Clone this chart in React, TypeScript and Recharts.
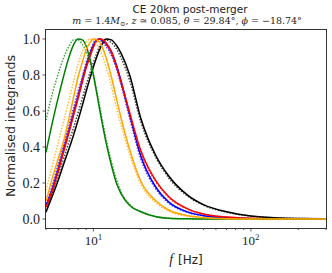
import { Line, LineChart, XAxis, YAxis } from "recharts";

document.body.style.margin = "0";

// frequency grid [Hz]
const freqs = [5, 5.5, 6, 6.5, 7, 7.5, 8, 8.5, 9, 9.5, 10, 10.5, 11, 11.5, 12, 13, 14, 15, 17, 20, 25, 30, 40, 50, 70, 100, 150, 200, 300];

const greenSolid = [0.37, 0.54, 0.68, 0.8, 0.9, 0.97, 1.0, 0.995, 0.96, 0.89, 0.8, 0.7, 0.6, 0.51, 0.43, 0.3, 0.2, 0.14, 0.075, 0.04, 0.012, 0.004, 0.001, 0, 0, 0, 0, 0, 0];
const greenDotted = [0.55, 0.7, 0.81, 0.9, 0.96, 0.995, 0.995, 0.97, 0.93, 0.87, 0.8, 0.71, 0.62, 0.53, 0.45, 0.32, 0.22, 0.15, 0.08, 0.042, 0.013, 0.004, 0.001, 0, 0, 0, 0, 0, 0];
const orangeSolid = [0.1, 0.23, 0.34, 0.44, 0.56, 0.68, 0.79, 0.87, 0.94, 0.98, 1.0, 0.995, 0.98, 0.945, 0.9, 0.79, 0.67, 0.56, 0.385, 0.21, 0.1, 0.05, 0.018, 0.008, 0.002, 0.0005, 0, 0, 0];
const orangeDotted = [0.16, 0.3, 0.43, 0.55, 0.66, 0.77, 0.86, 0.93, 0.98, 1.0, 0.99, 0.97, 0.94, 0.9, 0.85, 0.74, 0.62, 0.52, 0.36, 0.195, 0.09, 0.045, 0.015, 0.006, 0.002, 0, 0, 0, 0];
const blueSolid = [0.07, 0.17, 0.28, 0.39, 0.49, 0.59, 0.68, 0.77, 0.85, 0.915, 0.965, 0.995, 1.0, 0.99, 0.975, 0.93, 0.855, 0.765, 0.58, 0.35, 0.175, 0.095, 0.038, 0.018, 0.006, 0.002, 0, 0, 0];
const blueDotted = [0.085, 0.19, 0.31, 0.42, 0.52, 0.62, 0.71, 0.79, 0.87, 0.93, 0.975, 1.0, 0.995, 0.98, 0.96, 0.91, 0.835, 0.745, 0.56, 0.335, 0.165, 0.09, 0.036, 0.017, 0.006, 0.002, 0, 0, 0];
const redSolid = [0.065, 0.16, 0.27, 0.38, 0.48, 0.58, 0.67, 0.76, 0.84, 0.9, 0.955, 0.99, 1.0, 0.995, 0.98, 0.93, 0.85, 0.76, 0.59, 0.38, 0.21, 0.125, 0.055, 0.028, 0.011, 0.004, 0.001, 0, 0];
const redDotted = [0.075, 0.175, 0.29, 0.4, 0.5, 0.6, 0.69, 0.78, 0.855, 0.915, 0.965, 0.995, 1.0, 0.99, 0.97, 0.92, 0.845, 0.755, 0.58, 0.37, 0.205, 0.12, 0.053, 0.027, 0.01, 0.004, 0.001, 0, 0];
const blackSolid = [0.038, 0.13, 0.22, 0.31, 0.39, 0.47, 0.55, 0.63, 0.71, 0.78, 0.845, 0.9, 0.945, 0.98, 1.0, 0.995, 0.965, 0.92, 0.8, 0.56, 0.35, 0.24, 0.13, 0.08, 0.04, 0.017, 0.006, 0.003, 0.001];
const blackDotted = [0.05, 0.15, 0.25, 0.34, 0.43, 0.51, 0.59, 0.67, 0.745, 0.81, 0.87, 0.92, 0.965, 0.99, 0.995, 0.98, 0.945, 0.895, 0.77, 0.54, 0.34, 0.23, 0.125, 0.077, 0.038, 0.016, 0.006, 0.003, 0.001];

const xTicks = [5, 6, 7, 8, 9, 10, 20, 30, 40, 50, 60, 70, 80, 90, 100, 200, 300];
const yTicks = [0, 0.2, 0.4, 0.6, 0.8, 1.0];

const rows = freqs.map((f, i) => ({
  f,
  greenSolid: greenSolid[i],
  greenDotted: greenDotted[i],
  orangeSolid: orangeSolid[i],
  orangeDotted: orangeDotted[i],
  blueSolid: blueSolid[i],
  blueDotted: blueDotted[i],
  redSolid: redSolid[i],
  redDotted: redDotted[i],
  blackSolid: blackSolid[i],
  blackDotted: blackDotted[i],
}));

const series = [
  { key: "blackDotted", color: "#000000", dotted: true },
  { key: "blackSolid", color: "#000000", dotted: false },
  { key: "blueSolid", color: "#0000ff", dotted: false },
  { key: "redDotted", color: "#ff0000", dotted: true },
  { key: "blueDotted", color: "#0000ff", dotted: true },
  { key: "redSolid", color: "#ff0000", dotted: false },
  { key: "greenDotted", color: "#008000", dotted: true },
  { key: "greenSolid", color: "#008000", dotted: false },
  { key: "orangeDotted", color: "#ffa500", dotted: true },
  { key: "orangeSolid", color: "#ffa500", dotted: false },
];

const serif = "'Liberation Serif', 'DejaVu Serif', serif";
const mathSerif = "'DejaVu Serif', serif";
const sans = "'DejaVu Sans', sans-serif";

function XTick({ x, y, payload }: { x?: number; y?: number; payload?: { value: number } }) {
  const v = payload?.value ?? 0;
  const major = v === 10 || v === 100;
  return (
    <g>
      <line x1={x} x2={x} y1={y} y2={(y ?? 0) + (major ? 3.5 : 2)} stroke="#333" strokeWidth={0.8} />
      {major && (
        <text x={x} y={(y ?? 0) + 17} textAnchor="middle" fontFamily={serif} fontSize={13} fill="#222">
          10
          <tspan dy={-5} fontSize={9}>
            {v === 10 ? "1" : "2"}
          </tspan>
        </text>
      )}
    </g>
  );
}

function YTick({ x, y, payload }: { x?: number; y?: number; payload?: { value: number } }) {
  const v = payload?.value ?? 0;
  return (
    <g>
      <line x1={(x ?? 0) - 3.5} x2={x} y1={y} y2={y} stroke="#333" strokeWidth={0.8} />
      <text x={(x ?? 0) - 6} y={y} dy={4.5} textAnchor="end" fontFamily={serif} fontSize={14} fill="#222">
        {v.toFixed(1)}
      </text>
    </g>
  );
}

export default function App() {
  return (
    <div style={{ position: "relative", width: 332, height: 273, background: "#fff" }}>
      <div
        style={{
          position: "absolute",
          left: 24,
          top: 3,
          width: 332,
          textAlign: "center",
          fontFamily: sans,
          fontSize: 10.5,
          color: "#222",
          lineHeight: "12px",
        }}
      >
        CE 20km post-merger
      </div>
      <div
        style={{
          position: "absolute",
          left: 21,
          top: 15,
          width: 332,
          textAlign: "center",
          fontFamily: mathSerif,
          fontSize: 9.5,
          color: "#222",
          lineHeight: "12px",
          whiteSpace: "nowrap",
        }}
      >
        <i>m</i> = 1.4<i>M</i>
        <span style={{ fontSize: 6.5, verticalAlign: "-2px" }}>⊙</span>, <i>z</i> ≃ 0.085, <i>θ</i> = 29.84°,{" "}
        <i>ϕ</i> = −18.74°
      </div>
      <LineChart width={332} height={273} data={rows} margin={{ top: 30, right: 6, bottom: 0, left: 6 }}>
        <XAxis
          dataKey="f"
          type="number"
          scale="log"
          domain={[5, 300]}
          allowDataOverflow
          ticks={xTicks}
          interval={0}
          tickSize={0}
          tickMargin={0}
          axisLine={false}
          tickLine={false}
          tick={<XTick />}
          height={45}
          label={{
            content: () => (
              <text x={186} y={264} textAnchor="middle" fill="#222">
                <tspan fontFamily={serif} fontStyle="italic" fontSize={14}>
                  f
                </tspan>
                <tspan fontFamily={sans} fontSize={12} dx={5}>
                  [Hz]
                </tspan>
              </text>
            ),
          }}
        />
        <YAxis
          type="number"
          domain={[-0.05, 1.05]}
          allowDataOverflow
          ticks={yTicks}
          interval={0}
          tickSize={0}
          tickMargin={0}
          axisLine={false}
          tickLine={false}
          tick={<YTick />}
          width={40}
          label={{
            content: () => (
              <text
                transform="translate(15,126) rotate(-90)"
                textAnchor="middle"
                fontFamily={sans}
                fontSize={12.5}
                fill="#222"
              >
                Normalised integrands
              </text>
            ),
          }}
        />
        {series.map((s) => (
          <Line
            key={s.key}
            dataKey={s.key}
            type="monotone"
            stroke={s.color}
            strokeWidth={1.5}
            strokeDasharray={s.dotted ? "1.5 1.5" : undefined}
            strokeOpacity={s.dotted ? 0.75 : 1}
            dot={false}
            activeDot={false}
            isAnimationActive={false}
          />
        ))}
      </LineChart>
      <div
        style={{
          position: "absolute",
          left: 45,
          top: 29,
          width: 282,
          height: 200,
          boxSizing: "border-box",
          border: "1px solid #333",
          pointerEvents: "none",
        }}
      />
    </div>
  );
}
